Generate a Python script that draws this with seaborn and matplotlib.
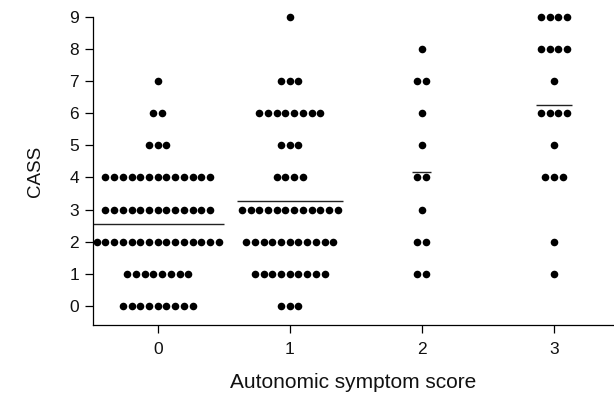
import numpy as np
import pandas as pd
import matplotlib
matplotlib.use("Agg")
import matplotlib.pyplot as plt
import seaborn as sns

# ---- data ----
symptom_scores = [0, 1, 2, 3]
cass_values = [0, 1, 2, 3, 4, 5, 6, 7, 8, 9]
counts_score0 = [9, 8, 15, 13, 13, 3, 2, 1, 0, 0]
counts_score1 = [3, 9, 11, 12, 4, 3, 8, 3, 0, 1]
counts_score2 = [0, 2, 2, 1, 2, 1, 1, 2, 1, 0]
counts_score3 = [0, 1, 1, 0, 3, 1, 4, 1, 4, 4]
all_counts = [counts_score0, counts_score1, counts_score2, counts_score3]

x_label = "Autonomic symptom score"
y_label = "CASS"

# ---- build a dot-plot layout (rows of dots centred on each group) ----
spacing = 0.066  # horizontal dot spacing in x-data units
rows = []
for g, counts in zip(symptom_scores, all_counts):
    for v, n in zip(cass_values, counts):
        offs = (np.arange(n) - (n - 1) / 2) * spacing
        for o in offs:
            rows.append({"score": g, "x": g + o, "cass": v})
df = pd.DataFrame(rows)

sns.set_theme(style="ticks")
plt.rcParams["font.family"] = ["Liberation Sans", "DejaVu Sans"]

fig = plt.figure(figsize=(6.14, 3.93), dpi=100)
ax = fig.add_axes([93 / 614, 1 - 325 / 393, 1 - 93 / 614, (325 - 17) / 393])

sns.scatterplot(data=df, x="x", y="cass", color="black", s=30, linewidth=0,
                ax=ax, clip_on=False, legend=False)

# mean lines spanning the widest row of each group
for g, counts in zip(symptom_scores, all_counts):
    c = np.array(counts)
    mean = (c * np.array(cass_values)).sum() / c.sum()
    hw = (c.max() - 1) / 2 * spacing + 0.6 * spacing
    ax.hlines(mean, g - hw, g + hw, color="#222222", lw=1.0)

ax.set_xlim(-0.49, 3.455)
ax.set_ylim(-0.6, 9.0)
ax.set_xticks(symptom_scores)
ax.set_yticks(cass_values)
ax.set_xticklabels([str(s) for s in symptom_scores])
ax.set_yticklabels([str(v) for v in cass_values])

for side in ["top", "right"]:
    ax.spines[side].set_visible(False)
for side in ["left", "bottom"]:
    ax.spines[side].set_color("black")
    ax.spines[side].set_linewidth(0.9)

ax.tick_params(axis="both", direction="out", length=6, width=0.9,
               color="black", labelsize=12.5, labelcolor="#111111", pad=4)
ax.tick_params(axis="x", pad=6)

ax.set_xlabel(x_label, fontsize=15, color="#111111", labelpad=12)
ax.set_ylabel(y_label, fontsize=13.5, color="#111111", labelpad=18)

fig.savefig("out.png", dpi=100)
